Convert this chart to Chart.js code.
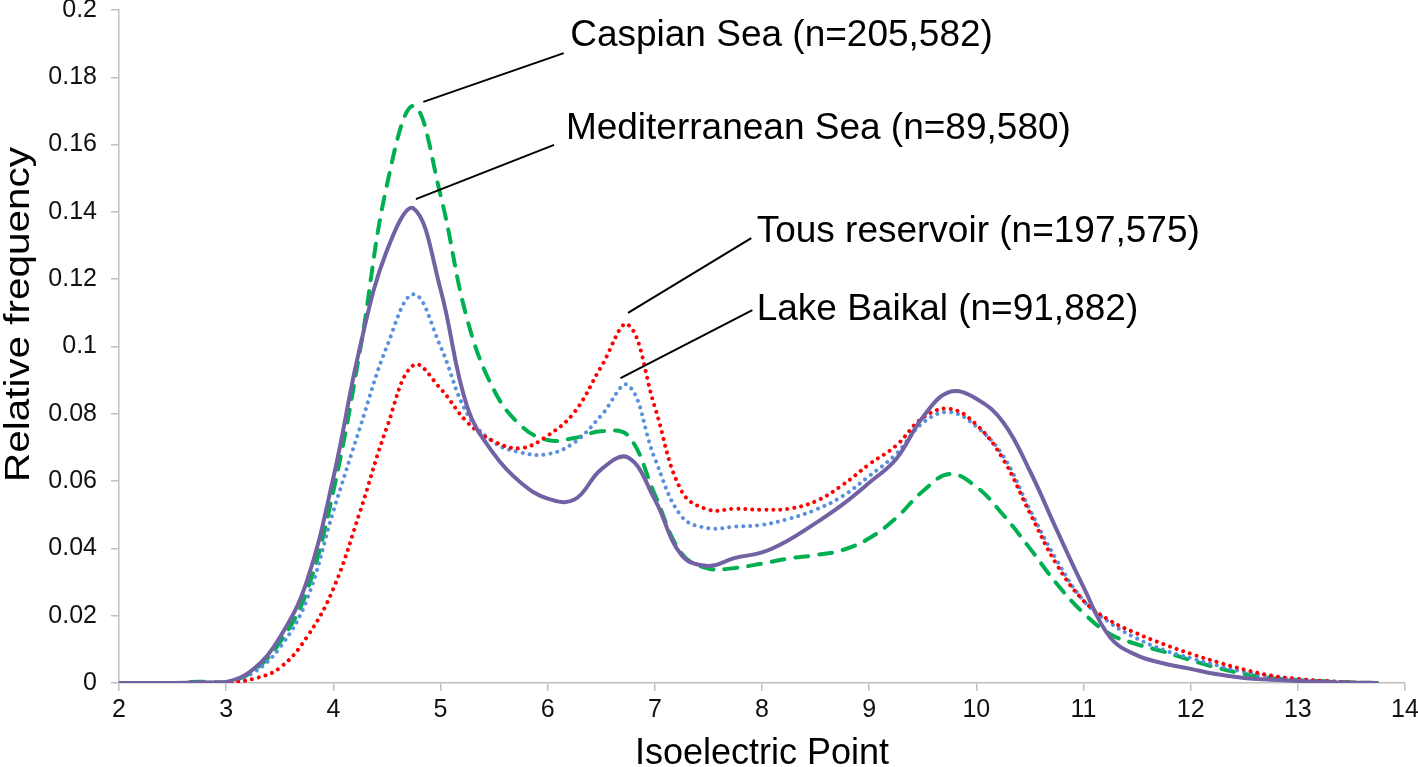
<!DOCTYPE html>
<html>
<head>
<meta charset="utf-8">
<script src="https://cdn.jsdelivr.net/npm/chart.js@4.4.1/dist/chart.umd.min.js"></script>
<style>
  html, body { margin: 0; padding: 0; background: #fff; }
  canvas { display: block; }
</style>
</head>
<body>
<canvas id="chart" width="1418" height="767"></canvas>
<script>
// Isoelectric point distributions, every 0.25 pI unit.
const isoPoint = [
  2, 2.25, 2.5, 2.75, 3, 3.25, 3.5, 3.75, 4, 4.25, 4.5, 4.75,
  5, 5.25, 5.5, 5.75, 6, 6.25, 6.5, 6.75, 7, 7.25, 7.5, 7.75,
  8, 8.25, 8.5, 8.75, 9, 9.25, 9.5, 9.75, 10, 10.25, 10.5, 10.75,
  11, 11.25, 11.5, 11.75, 12, 12.25, 12.5, 12.75, 13, 13.25, 13.5, 13.75,
];

const mediterranean = [
  0, 0, 0, 0.0002, 0.0003, 0.004, 0.0135, 0.03, 0.061, 0.1, 0.1285, 0.141,
  0.117, 0.082, 0.068, 0.0595, 0.0548, 0.0545, 0.0635, 0.067, 0.0545, 0.038, 0.0348, 0.0372,
  0.0388, 0.0425, 0.0475, 0.053, 0.0595, 0.0665, 0.079, 0.0865, 0.0845, 0.0775, 0.063, 0.0455,
  0.0285, 0.0135, 0.0082, 0.0058, 0.0042, 0.0026, 0.0015, 0.001, 0.0006, 0.0003, 0.0001, 0,
];

const caspian = [
  0, 0, 0, 0.0004, 0.0002, 0.0035, 0.012, 0.027, 0.057, 0.099, 0.148, 0.1715,
  0.145, 0.108, 0.087, 0.0765, 0.0722, 0.0728, 0.0748, 0.0735, 0.056, 0.0385, 0.034, 0.0342,
  0.0355, 0.037, 0.038, 0.0395, 0.043, 0.049, 0.057, 0.0621, 0.0583, 0.05, 0.04, 0.0295,
  0.0208, 0.0145, 0.0115, 0.0093, 0.0068, 0.0045, 0.0027, 0.0015, 0.0008, 0.0005, 0.0002, 0,
];

const tous = [
  0, 0, 0, 0.0001, 0.0001, 0.0012, 0.0045, 0.0135, 0.028, 0.051, 0.076, 0.0945,
  0.0875, 0.0775, 0.0718, 0.0698, 0.0735, 0.0805, 0.094, 0.1065, 0.082, 0.057, 0.0515, 0.0518,
  0.0515, 0.0518, 0.054, 0.0588, 0.065, 0.0705, 0.0788, 0.0815, 0.0768, 0.0665, 0.0505, 0.0352,
  0.0245, 0.0185, 0.0147, 0.0115, 0.0087, 0.0062, 0.004, 0.0022, 0.0012, 0.0006, 0.0002, 0,
];

const baikal = [
  0, 0, 0, 0.0002, 0.0002, 0.003, 0.0105, 0.0245, 0.051, 0.076, 0.1, 0.1155,
  0.1, 0.08, 0.0715, 0.0685, 0.068, 0.0715, 0.0795, 0.0885, 0.0667, 0.0495, 0.046, 0.0465,
  0.047, 0.0488, 0.0515, 0.0555, 0.0615, 0.068, 0.0773, 0.0805, 0.0762, 0.0675, 0.0515, 0.0365,
  0.0245, 0.0178, 0.0132, 0.0098, 0.0074, 0.0052, 0.0033, 0.002, 0.0012, 0.0006, 0.0002, 0,
];

// Callout labels: the leader runs from a point on the curve to the text,
// all in data units so the scales place them.
const callouts = [
  { text: 'Caspian Sea (n=205,582)',      from: [4.84, 0.1727], to: [6.15, 0.1872], at: [6.21, 0.1893] },
  { text: 'Mediterranean Sea (n=89,580)', from: [4.77, 0.1438], to: [6.06, 0.1599], at: [6.17, 0.1617] },
  { text: 'Tous reservoir (n=197,575)',   from: [6.75, 0.1100], to: [7.90, 0.1322], at: [7.95, 0.1311] },
  { text: 'Lake Baikal (n=91,882)',       from: [6.68, 0.0906], to: [7.91, 0.1108], at: [7.95, 0.1079] },
];

const Y_TITLE = 'Relative frequency';

const FONT = "'Liberation Sans', Arial, sans-serif";
const AXIS_GREY = '#bfbfbf';

const toPoints = (ys) => isoPoint.map((x, i) => ({ x, y: ys[i] }));

const calloutPlugin = {
  id: 'callouts',
  afterDatasetsDraw(chart) {
    const { ctx, scales: { x, y } } = chart;
    ctx.save();
    ctx.strokeStyle = '#000';
    ctx.lineWidth = 2;
    ctx.fillStyle = '#000';
    ctx.font = `37px ${FONT}`;
    ctx.textAlign = 'left';
    ctx.textBaseline = 'alphabetic';
    for (const c of callouts) {
      ctx.beginPath();
      ctx.moveTo(x.getPixelForValue(c.from[0]), y.getPixelForValue(c.from[1]));
      ctx.lineTo(x.getPixelForValue(c.to[0]), y.getPixelForValue(c.to[1]));
      ctx.stroke();
      ctx.fillText(c.text, x.getPixelForValue(c.at[0]), y.getPixelForValue(c.at[1]));
    }
    ctx.restore();
  },
};

// The y title in the original sits above the axis middle and is drawn a bit
// wider along its run than the font gives, so it is painted by hand.
const yTitlePlugin = {
  id: 'yTitle',
  afterDraw(chart) {
    const { ctx, scales: { y } } = chart;
    ctx.save();
    ctx.font = `35px ${FONT}`;
    ctx.fillStyle = '#000';
    ctx.textAlign = 'center';
    ctx.textBaseline = 'middle';
    const stretch = 335 / ctx.measureText(Y_TITLE).width;
    ctx.translate(19, y.getPixelForValue(0.1095));
    ctx.rotate(-Math.PI / 2);
    ctx.scale(stretch, 1);
    ctx.fillText(Y_TITLE, 0, 0);
    ctx.restore();
  },
};

const dotted = { borderWidth: 4, borderDash: [0.01, 7], borderCapStyle: 'round' };

new Chart(document.getElementById('chart'), {
  type: 'line',
  plugins: [calloutPlugin, yTitlePlugin],
  data: {
    datasets: [
      {
        label: 'Mediterranean Sea',
        data: toPoints(mediterranean),
        borderColor: '#7262a3',
        borderWidth: 4,
      },
      {
        label: 'Tous reservoir',
        data: toPoints(tous),
        borderColor: '#ff0000',
        ...dotted,
      },
      {
        label: 'Lake Baikal',
        data: toPoints(baikal),
        borderColor: '#5890dc',
        ...dotted,
      },
      {
        label: 'Caspian Sea',
        data: toPoints(caspian),
        borderColor: '#00b050',
        borderWidth: 4,
        borderDash: [13, 11],
        borderCapStyle: 'round',
      },
    ],
  },
  options: {
    responsive: false,
    animation: false,
    layout: { padding: { top: 10, right: 13, left: 0, bottom: 0 } },
    elements: {
      point: { radius: 0 },
      line: { tension: 0.4, fill: false },
    },
    plugins: {
      legend: { display: false },
      tooltip: { enabled: false },
    },
    scales: {
      x: {
        type: 'linear',
        min: 2,
        max: 14,
        afterFit: (scale) => {
          scale.height = 84;
          scale.paddingLeft = 0;
          scale.paddingRight = 0;
        },
        border: { color: AXIS_GREY, width: 1.5 },
        grid: { drawOnChartArea: false, tickLength: 8, color: AXIS_GREY, lineWidth: 1.5 },
        ticks: {
          stepSize: 1,
          padding: 4,
          color: '#111',
          font: { family: FONT, size: 25 },
        },
        title: {
          display: true,
          text: 'Isoelectric Point',
          color: '#000',
          font: { family: FONT, size: 36, lineHeight: 1 },
          padding: { top: 0, bottom: -5 },
        },
      },
      y: {
        min: 0,
        max: 0.2,
        afterFit: (scale) => {
          scale.width = 119;
          scale.paddingTop = 0;
          scale.paddingBottom = 0;
        },
        border: { color: AXIS_GREY, width: 1.5 },
        grid: { drawOnChartArea: false, tickLength: 8, color: AXIS_GREY, lineWidth: 1.5 },
        ticks: {
          stepSize: 0.02,
          padding: 14,
          color: '#111',
          font: { family: FONT, size: 25 },
          callback: (v) => String(Number(v.toFixed(2))),
        },
        title: { display: false },
      },
    },
  },
});
</script>
</body>
</html>
